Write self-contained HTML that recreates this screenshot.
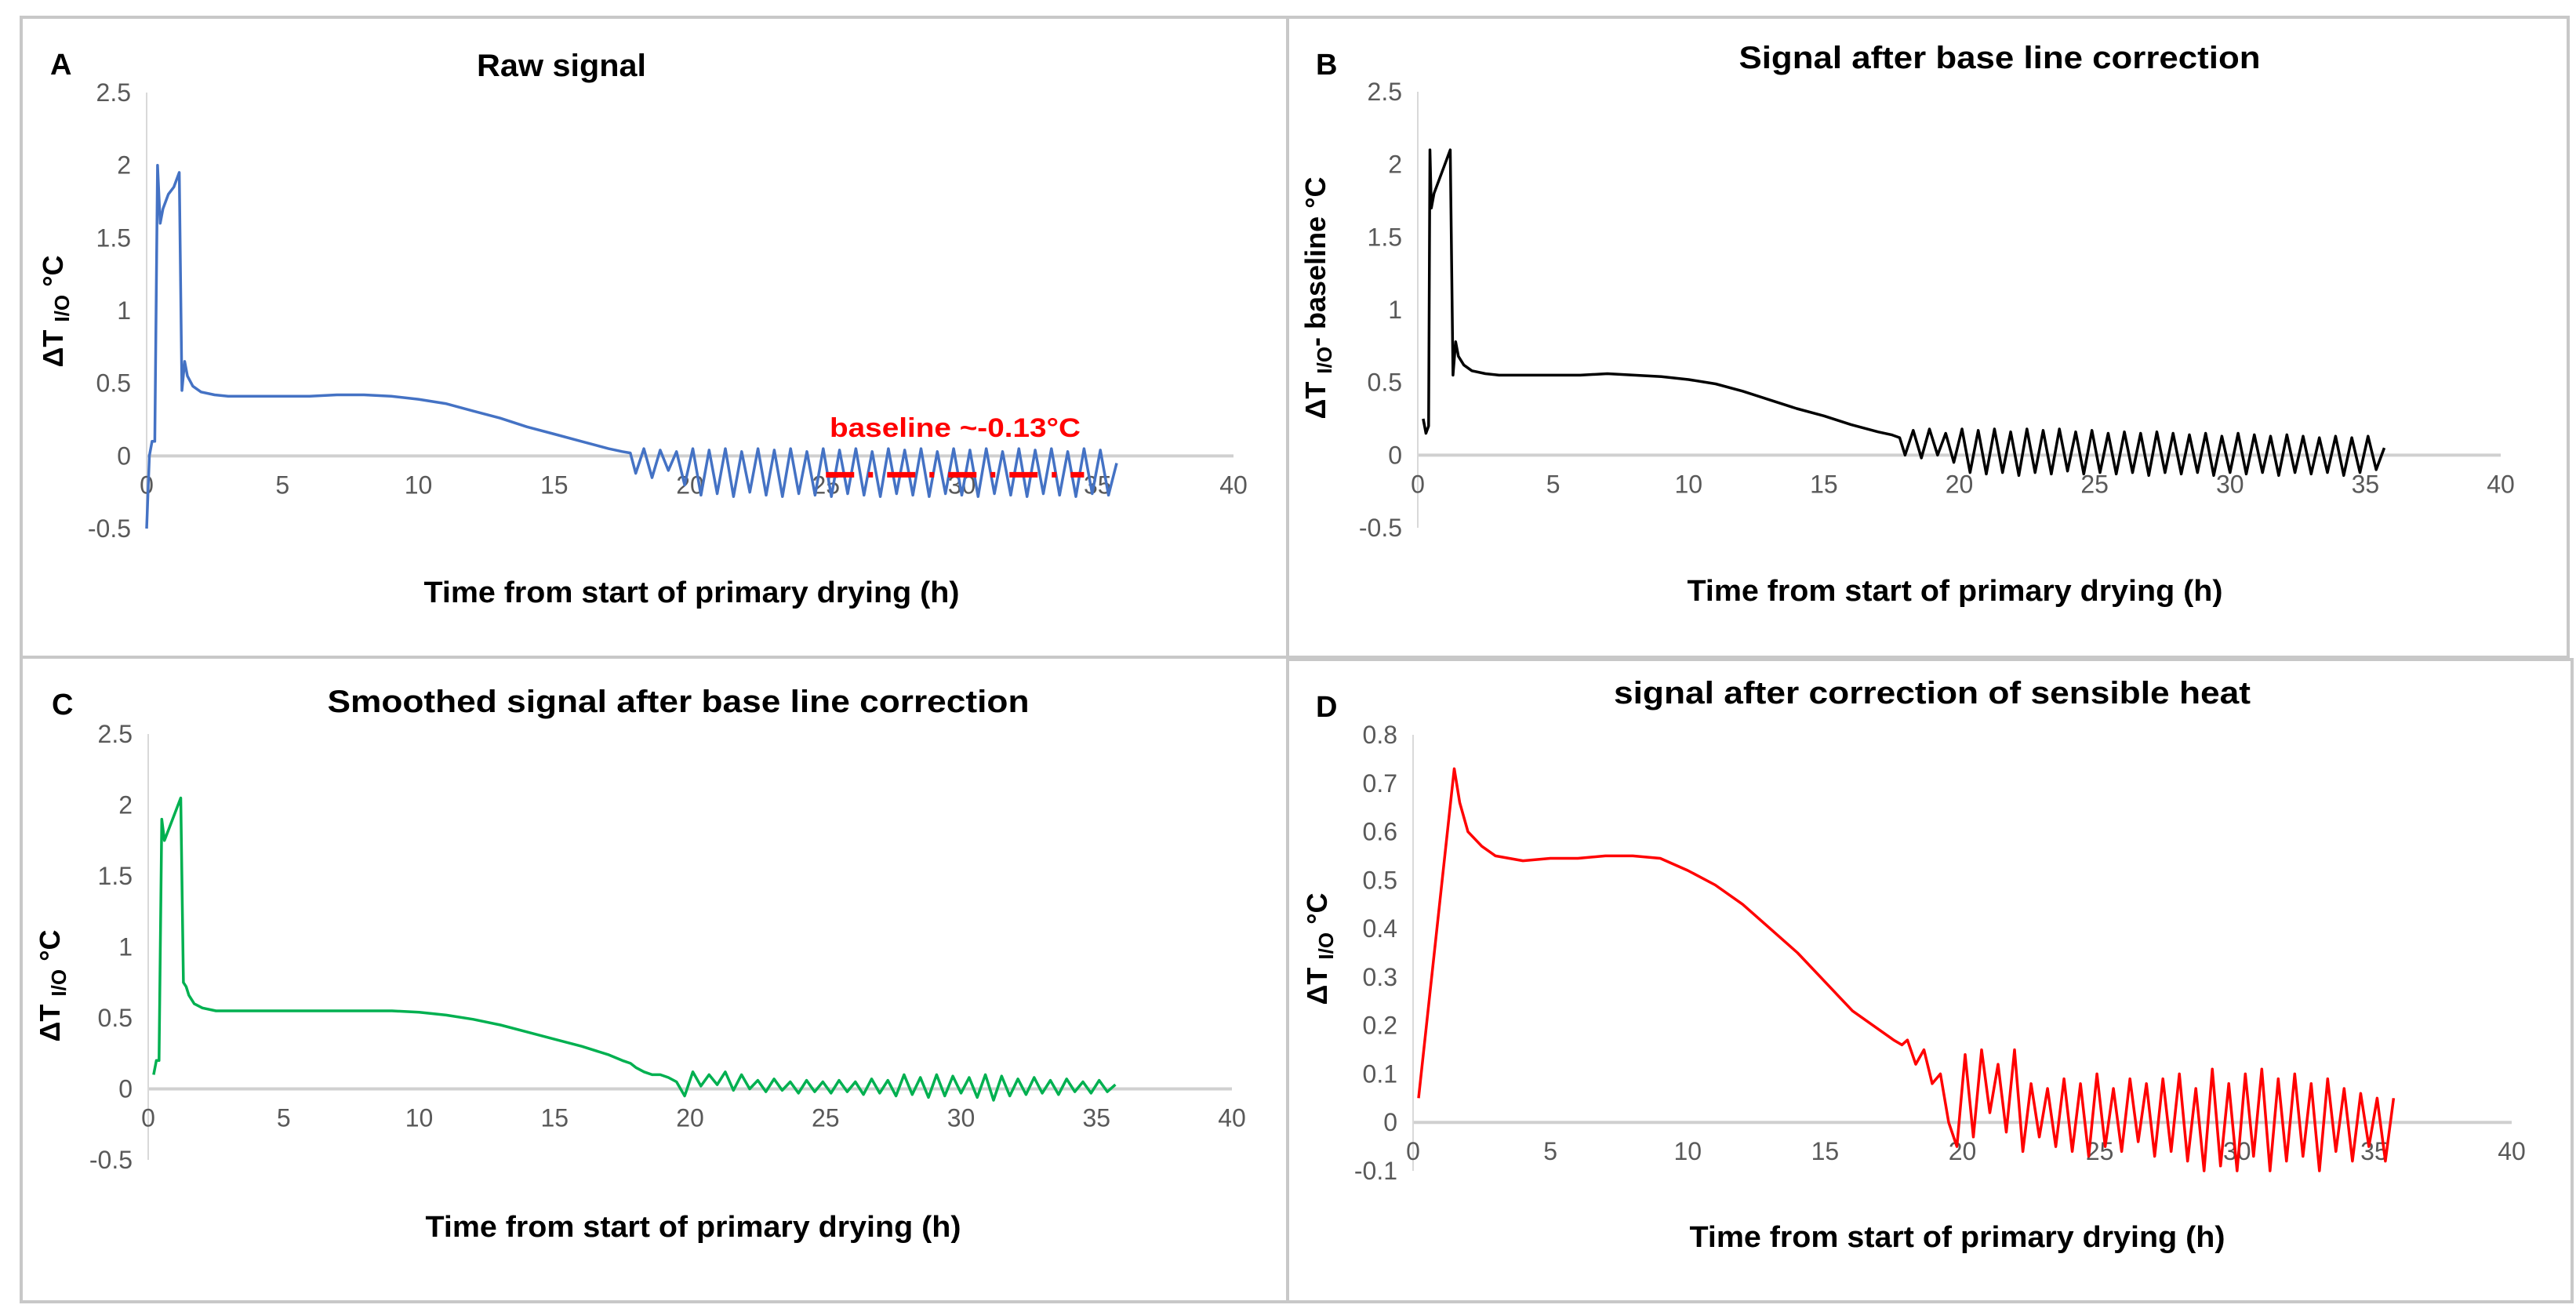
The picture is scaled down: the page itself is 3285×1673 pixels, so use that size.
<!DOCTYPE html>
<html><head><meta charset="utf-8"><style>
html,body{margin:0;padding:0;background:#fff}
svg{display:block}
text{font-family:"Liberation Sans",sans-serif}
</style></head><body>
<svg id="fig" width="3285" height="1673" viewBox="0 0 3285 1673" xmlns="http://www.w3.org/2000/svg">
<g fill="none" stroke="#c8c8c8" stroke-width="4">
<rect x="27" y="22" width="1615" height="816"/>
<rect x="1642" y="22" width="1633" height="816"/>
<rect x="27" y="838" width="1615" height="822"/>
<rect x="1642" y="841" width="1638" height="819"/>
</g>
</svg>
<script>
// ---- Panel A: raw signal ----
const tA = [0,0.1,0.2,0.3,0.4,0.5,0.6,0.8,1.0,1.2,1.3,1.4,1.5,1.7,2,2.5,3,4,5,6,7,8,9,10,11,12,13,14,15,16,17,17.5,17.8];
const vA = [-0.5,0,0.1,0.1,2.0,1.6,1.7,1.8,1.85,1.95,0.45,0.65,0.55,0.48,0.44,0.42,0.41,0.41,0.41,0.41,0.42,0.42,0.41,0.39,0.36,0.31,0.26,0.2,0.15,0.1,0.05,0.03,0.02];
const tN = [18.0,18.3,18.6,18.9,19.2,19.5,19.8,20.1,20.4,20.7,21.0,21.3,21.6,21.9,22.2,22.5,22.8,23.1,23.4,23.7,24.0,24.3,24.6,24.9,25.2,25.5,25.8,26.1,26.4,26.7,27.0,27.3,27.6,27.9,28.2,28.5,28.8,29.1,29.4,29.7,30.0,30.3,30.6,30.9,31.2,31.5,31.8,32.1,32.4,32.7,33.0,33.3,33.6,33.9,34.2,34.5,34.8,35.1,35.4,35.7];
const nA = [-0.12,0.05,-0.15,0.04,-0.1,0.03,-0.2,0.05,-0.27,0.04,-0.26,0.05,-0.28,0.03,-0.25,0.05,-0.27,0.04,-0.28,0.05,-0.26,0.03,-0.27,0.05,-0.28,0.04,-0.26,0.05,-0.27,0.03,-0.28,0.05,-0.26,0.04,-0.27,0.05,-0.28,0.03,-0.26,0.05,-0.27,0.04,-0.28,0.05,-0.26,0.03,-0.27,0.05,-0.28,0.04,-0.26,0.05,-0.27,0.03,-0.28,0.05,-0.26,0.04,-0.27,-0.05];
// ---- Panel B: baseline corrected ----
const tB = [0.2,0.3,0.4,0.45,0.5,0.6,0.8,1.0,1.2,1.3,1.4,1.5,1.7,2,2.5,3,4,5,6,7,8,9,10,11,12,13,14,15,16,17,17.5,17.8];
const vB = [0.25,0.15,0.2,2.1,1.7,1.8,1.9,2.0,2.1,0.55,0.78,0.68,0.62,0.58,0.56,0.55,0.55,0.55,0.55,0.56,0.55,0.54,0.52,0.49,0.44,0.38,0.32,0.27,0.21,0.16,0.14,0.12];
const nB = [0.0,0.17,-0.02,0.18,0.0,0.15,-0.05,0.18,-0.12,0.17,-0.13,0.18,-0.12,0.16,-0.14,0.18,-0.12,0.17,-0.13,0.18,-0.11,0.16,-0.13,0.17,-0.12,0.15,-0.13,0.16,-0.12,0.15,-0.14,0.16,-0.12,0.15,-0.13,0.14,-0.12,0.15,-0.14,0.13,-0.12,0.15,-0.13,0.14,-0.12,0.13,-0.14,0.14,-0.12,0.13,-0.13,0.12,-0.12,0.13,-0.14,0.12,-0.12,0.13,-0.1,0.05];
// ---- Panel C: smoothed ----
const tC = [0.2,0.3,0.4,0.5,0.6,0.8,1.0,1.2,1.3,1.4,1.5,1.7,2,2.5,3,4,5,6,7,8,9,10,11,12,13,14,15,16,17,17.5,17.8];
const vC = [0.1,0.2,0.2,1.9,1.75,1.85,1.95,2.05,0.75,0.72,0.66,0.6,0.57,0.55,0.55,0.55,0.55,0.55,0.55,0.55,0.55,0.54,0.52,0.49,0.45,0.4,0.35,0.3,0.24,0.2,0.18];
const nC = [0.15,0.12,0.1,0.1,0.08,0.05,-0.05,0.12,0.02,0.1,0.03,0.12,-0.01,0.1,0.0,0.06,-0.02,0.07,-0.01,0.05,-0.03,0.06,-0.02,0.05,-0.03,0.06,-0.02,0.05,-0.04,0.07,-0.03,0.06,-0.05,0.1,-0.04,0.08,-0.06,0.1,-0.05,0.09,-0.03,0.08,-0.06,0.1,-0.08,0.09,-0.05,0.07,-0.04,0.08,-0.03,0.06,-0.04,0.07,-0.02,0.05,-0.03,0.06,-0.02,0.03];
// ---- Panel D: sensible heat corrected ----
const tD = [0.2,1.5,1.7,2,2.5,3,4,5,6,7,8,9,10,11,12,13,14,15,16,17,17.5,17.8];
const vD = [0.05,0.73,0.66,0.6,0.57,0.55,0.54,0.545,0.545,0.55,0.55,0.545,0.52,0.49,0.45,0.4,0.35,0.29,0.23,0.19,0.17,0.16];
const nD = [0.17,0.12,0.15,0.08,0.1,0.0,-0.05,0.14,-0.03,0.15,0.02,0.12,-0.02,0.15,-0.06,0.08,-0.03,0.07,-0.05,0.09,-0.06,0.08,-0.07,0.1,-0.05,0.07,-0.06,0.09,-0.04,0.08,-0.07,0.09,-0.06,0.1,-0.08,0.07,-0.1,0.11,-0.09,0.08,-0.1,0.1,-0.07,0.11,-0.1,0.09,-0.08,0.1,-0.07,0.08,-0.1,0.09,-0.06,0.07,-0.08,0.06,-0.05,0.05,-0.08,0.05];
const xTicks = [0,5,10,15,20,25,30,35,40];
const yTicksA = [-0.5,0,0.5,1,1.5,2,2.5];
const yTicksD = [-0.1,0,0.1,0.2,0.3,0.4,0.5,0.6,0.7,0.8];

const NS = "http://www.w3.org/2000/svg";
const svg = document.getElementById('fig');
function mk(tag, attrs, parent, txt){
  const e = document.createElementNS(NS, tag);
  for (const k in attrs) e.setAttribute(k, attrs[k]);
  if (txt !== undefined) e.textContent = txt;
  parent.appendChild(e);
  return e;
}
function panel(cfg){
  const g = mk('g', {}, svg);
  
  
  const sx = v => cfg.x0 + (v - 0) / 40 * (cfg.x1 - cfg.x0);
  const sy = v => cfg.yb + (v - cfg.ymin) / (cfg.ymax - cfg.ymin) * (cfg.yt - cfg.yb);
  // axes
  const za = mk('line', {x1:sx(0), x2:sx(40), y1:sy(0), y2:sy(0), stroke:'#d0d0d0', 'stroke-width':4}, g);
  
  
  const ya = mk('line', {x1:sx(0), x2:sx(0), y1:sy(cfg.ymax), y2:sy(cfg.ymin), stroke:'#d9d9d9', 'stroke-width':2}, g);
  
  
  for (const t of xTicks){
    const e = mk('text', {x:sx(t), y:sy(0)+48, 'text-anchor':'middle', 'font-size':32, fill:'#595959'}, g, String(t));
    
    
  }
  for (const t of cfg.yTicks){
    const e = mk('text', {x:sx(0)-20, y:sy(t)+11, 'text-anchor':'end', 'font-size':32, fill:'#595959'}, g, String(t));
    
    
  }
  // series
  let d = '';
  const T = cfg.t.concat(tN), V = cfg.v.concat(cfg.n);
  const n = Math.min(T.length, V.length);
  for (let i = 0; i < n; i++) d += (i ? 'L' : 'M') + sx(T[i]).toFixed(1) + ',' + sy(V[i]).toFixed(1);
  const p = mk('path', {d:d, fill:'none', stroke:cfg.color, 'stroke-width':3.5, 'stroke-linejoin':'round'}, g);
  
  
  // titles
  const L = mk('text', {x:cfg.lx, y:cfg.ly, 'font-size':38, 'font-weight':'bold'}, g, cfg.letter);
  
  
  const ti = mk('text', {x:cfg.tx, y:cfg.ty, 'font-size':40, 'font-weight':'bold', 'text-anchor':'middle', textLength:cfg.tw, lengthAdjust:'spacingAndGlyphs'}, g, cfg.title);
  
  
  const xl = mk('text', {x:cfg.xlx, y:cfg.xly, 'font-size':38, 'font-weight':'bold', 'text-anchor':'middle', textLength:683, lengthAdjust:'spacingAndGlyphs'}, g, 'Time from start of primary drying (h)');
  
  
  const yl = mk('text', {transform:'translate(' + cfg.ylx + ',' + cfg.yly + ') rotate(-90)', 'font-size':36, 'font-weight':'bold', 'text-anchor':'middle'}, g);
  
  
  mk('tspan', {}, yl, '\u0394T ');
  mk('tspan', {'font-size':26, dy:8}, yl, 'I/O');
  mk('tspan', {dy:-8}, yl, cfg.ysuffix);
  return {g, sx, sy};
}
const A = panel({name:'panel-a-raw-signal', x0:187, x1:1573, yt:118, yb:674, ymin:-0.5, ymax:2.5, yTicks:yTicksA, t:tA, v:vA, n:nA, color:'#4472C4', letter:'A', lx:64, ly:95, title:'Raw signal', tx:716, ty:97, tw:216, xlx:882, xly:768, ylx:80, yly:397, ysuffix:' \u00B0C'});
const B = panel({name:'panel-b-baseline-corrected', x0:1808, x1:3189, yt:117, yb:673, ymin:-0.5, ymax:2.5, yTicks:yTicksA, t:tB, v:vB, n:nB, color:'#000000', letter:'B', lx:1678, ly:95, title:'Signal after base line correction', tx:2550, ty:87, tw:665, xlx:2493, xly:766, ylx:1690, yly:380, ysuffix:'- baseline \u00B0C'});
const C = panel({name:'panel-c-smoothed', x0:189, x1:1571, yt:936, yb:1479, ymin:-0.5, ymax:2.5, yTicks:yTicksA, t:tC, v:vC, n:nC, color:'#00B050', letter:'C', lx:66, ly:911, title:'Smoothed signal after base line correction', tx:865, ty:908, tw:895, xlx:884, xly:1577, ylx:76, yly:1257, ysuffix:' \u00B0C'});
const D = panel({name:'panel-d-sensible-heat-corrected', x0:1802, x1:3203, yt:937, yb:1493, ymin:-0.1, ymax:0.8, yTicks:yTicksD, t:tD, v:vD, n:nD, color:'#FF0000', letter:'D', lx:1678, ly:914, title:'signal after correction of sensible heat', tx:2464, ty:897, tw:812, xlx:2496, xly:1590, ylx:1692, yly:1210, ysuffix:' \u00B0C'});
// baseline annotation in A
const baseX = [25, 34.5];
const baseY = -0.13;
const bl = mk('line', {x1:A.sx(baseX[0]), x2:A.sx(baseX[1]), y1:A.sy(baseY), y2:A.sy(baseY), stroke:'#FF0000', 'stroke-width':7, 'stroke-dasharray':'36 18 6 18'}, A.g);


const bt = mk('text', {x:1218, y:557, 'text-anchor':'middle', 'font-size':34, 'font-weight':'bold', fill:'#FF0000', textLength:320, lengthAdjust:'spacingAndGlyphs'}, A.g, 'baseline ~-0.13\u00B0C');


</script>
</body></html>
